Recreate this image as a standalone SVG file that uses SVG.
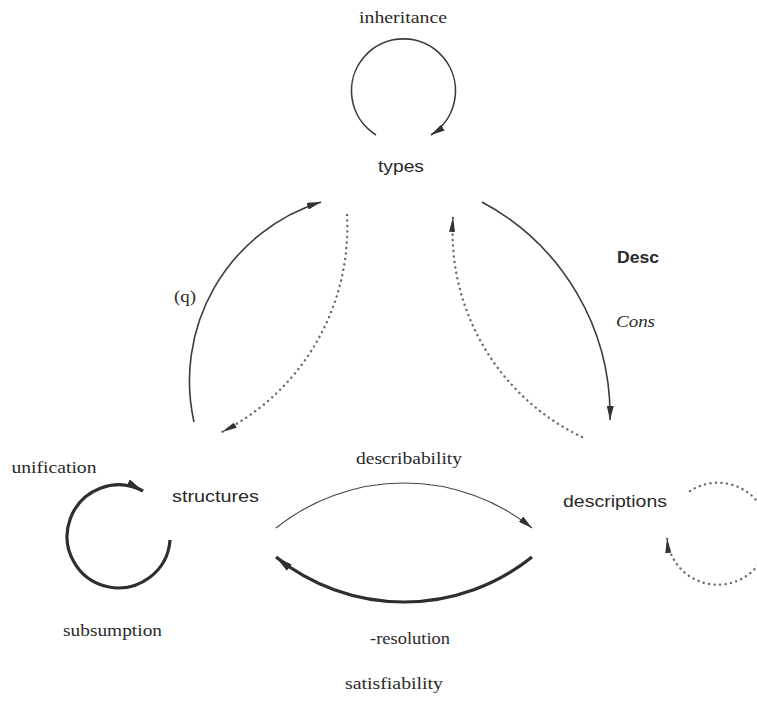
<svg xmlns="http://www.w3.org/2000/svg" width="757" height="702" viewBox="0 0 757 702">
  <style>
    .serif { font-family: "Liberation Serif", "Times New Roman", serif; font-size: 17px; fill: #2a2a2a; }
    .sans { font-family: "Liberation Sans", Arial, sans-serif; font-size: 17px; fill: #2a2a2a; }
    .bold { font-weight: bold; font-size: 16px; }
    .ital { font-style: italic; }
    .solid { fill: none; stroke: #3c3c3c; stroke-width: 1.6; }
    .thin { fill: none; stroke: #444; stroke-width: 1.2; }
    .thick { fill: none; stroke: #2e2e2e; stroke-width: 3.2; }
    .dots { fill: none; stroke: #6a6a6a; stroke-width: 2.4; stroke-dasharray: 0.1 5.4; stroke-linecap: round; }
  </style>
  <defs>
    <marker id="arrow" viewBox="0 0 14 7" refX="14" refY="3.5" markerWidth="14" markerHeight="7" markerUnits="userSpaceOnUse" orient="auto">
      <path d="M0,0 L14,3.5 L0,7 Z" fill="#333"/>
    </marker>
    <marker id="arrowBig" viewBox="0 0 17 8" refX="17" refY="4" markerWidth="17" markerHeight="8" markerUnits="userSpaceOnUse" orient="auto">
      <path d="M0,0 L17,4 L0,8 Z" fill="#2e2e2e"/>
    </marker>
    <marker id="arrowDot" viewBox="0 0 15 6" refX="15" refY="3" markerWidth="15" markerHeight="6" markerUnits="userSpaceOnUse" orient="auto">
      <path d="M0,0 L15,3 L0,6 Z" fill="#333"/>
    </marker>
  </defs>

  <!-- nodes -->
  <g id="types">
    <text class="sans" x="378" y="171.5" textLength="46" lengthAdjust="spacingAndGlyphs">types</text>
  </g>
  <g id="structures">
    <text class="sans" x="172" y="501.5" textLength="87" lengthAdjust="spacingAndGlyphs">structures</text>
  </g>
  <g id="descriptions">
    <text class="sans" x="563" y="506.5" textLength="104" lengthAdjust="spacingAndGlyphs">descriptions</text>
  </g>

  <!-- connectors -->
  <g id="connectors">
    <!-- inheritance loop on types -->
    <path class="solid" d="M376,135 A52,52 0 1 1 431,135" marker-end="url(#arrow)"/>
    <!-- structures to types -->
    <path class="solid" d="M194,422 A187.5,187.5 0 0 1 321,202" marker-end="url(#arrow)"/>
    <!-- types to structures (dotted) -->
    <path class="dots" d="M347,215 A230,230 0 0 1 222,432" marker-end="url(#arrowDot)"/>
    <!-- types to descriptions -->
    <path class="solid" d="M482,202 A242,242 0 0 1 610,420" marker-end="url(#arrow)"/>
    <!-- descriptions to types (dotted) -->
    <path class="dots" d="M582,437 A227.5,227.5 0 0 1 453,217" marker-end="url(#arrowDot)"/>
    <!-- structures to descriptions -->
    <path class="thin" d="M276,528 A204.5,204.5 0 0 1 532,528" marker-end="url(#arrow)"/>
    <!-- descriptions to structures -->
    <path class="thick" d="M532,557 A204.5,204.5 0 0 1 276,557" marker-end="url(#arrowBig)"/>
    <!-- unification / subsumption loop on structures -->
    <path class="thick" d="M170,540 A51.5,51.5 0 1 1 143,491" marker-end="url(#arrowBig)"/>
    <!-- dotted loop on descriptions -->
    <path class="dots" d="M690,491 A51,51 0 1 1 667,538" marker-end="url(#arrowDot)"/>
  </g>

  <!-- connector labels -->
  <g id="labels">
    <text class="serif" x="359" y="22.5" textLength="88" lengthAdjust="spacingAndGlyphs">inheritance</text>
    <text class="sans bold" x="617" y="263" textLength="42" lengthAdjust="spacingAndGlyphs">Desc</text>
    <text class="serif ital" x="616" y="327" textLength="39" lengthAdjust="spacingAndGlyphs">Cons</text>
    <text class="serif" x="174" y="302" textLength="22" lengthAdjust="spacingAndGlyphs">(q)</text>
    <text class="serif" x="11.5" y="473" textLength="85" lengthAdjust="spacingAndGlyphs">unification</text>
    <text class="serif" x="356" y="464" textLength="106" lengthAdjust="spacingAndGlyphs">describability</text>
    <text class="serif" x="63" y="636" textLength="99" lengthAdjust="spacingAndGlyphs">subsumption</text>
    <text class="serif" x="370" y="644" textLength="80" lengthAdjust="spacingAndGlyphs">-resolution</text>
    <text class="serif" x="345" y="689" textLength="98" lengthAdjust="spacingAndGlyphs">satisfiability</text>
  </g>
</svg>
